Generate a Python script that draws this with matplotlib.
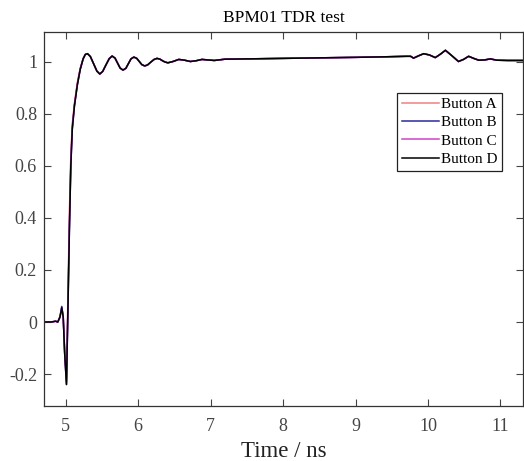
import matplotlib.pyplot as plt

plt.rcParams["font.family"] = ["Liberation Serif", "DejaVu Serif"]

# TDR step response of the four BPM buttons (time in ns, normalised amplitude)
t = [4.70, 4.80, 4.86, 4.89, 4.92, 4.945, 4.965, 4.985, 5.01, 5.03,
     5.05, 5.07, 5.09, 5.12, 5.16, 5.20, 5.24, 5.27, 5.30, 5.34,
     5.385, 5.43, 5.47, 5.51, 5.555, 5.60, 5.64, 5.68, 5.715, 5.75,
     5.79, 5.83, 5.865, 5.90, 5.94, 5.98, 6.015, 6.05, 6.09, 6.13,
     6.175, 6.22, 6.26, 6.30, 6.335, 6.37, 6.41, 6.48, 6.56, 6.64,
     6.72, 6.80, 6.88, 6.96, 7.05, 7.2, 7.5, 8.0, 8.5, 9.0,
     9.4, 9.70, 9.76, 9.80, 9.87, 9.94, 10.02, 10.10, 10.17, 10.24,
     10.33, 10.42, 10.49, 10.56, 10.63, 10.70, 10.78, 10.86, 10.95, 11.1,
     11.3]

button_a = [0.0, 0.0, 0.003, 0.0, 0.018, 0.050, 0.018, -0.11, -0.22, 0.10,
            0.42, 0.64, 0.76, 0.84, 0.92, 0.975, 1.012, 1.028, 1.030, 1.019,
            0.991, 0.963, 0.952, 0.962, 0.987, 1.011, 1.021, 1.013, 0.994, 0.975,
            0.967, 0.974, 0.992, 1.010, 1.017, 1.012, 1.000, 0.988, 0.983, 0.987,
            0.998, 1.008, 1.012, 1.009, 1.003, 0.998, 0.995, 1.000, 1.008, 1.005,
            1.000, 1.003, 1.008, 1.006, 1.004, 1.009, 1.010, 1.012, 1.014, 1.016,
            1.018, 1.020, 1.020, 1.013, 1.022, 1.030, 1.025, 1.015, 1.028, 1.043,
            1.022, 1.000, 1.008, 1.020, 1.012, 1.005, 1.006, 1.010, 1.005, 1.004,
            1.004]

button_b = [0.0, 0.0, 0.003, 0.0, 0.020, 0.060, 0.020, -0.12, -0.24, 0.05,
            0.35, 0.60, 0.74, 0.83, 0.91, 0.970, 1.010, 1.027, 1.030, 1.019,
            0.991, 0.963, 0.952, 0.962, 0.987, 1.011, 1.021, 1.013, 0.994, 0.975,
            0.967, 0.974, 0.992, 1.010, 1.017, 1.012, 1.000, 0.988, 0.983, 0.987,
            0.998, 1.008, 1.012, 1.009, 1.003, 0.998, 0.995, 1.000, 1.008, 1.005,
            1.000, 1.003, 1.008, 1.006, 1.004, 1.009, 1.010, 1.012, 1.014, 1.016,
            1.018, 1.020, 1.020, 1.013, 1.022, 1.030, 1.025, 1.015, 1.028, 1.043,
            1.022, 1.000, 1.008, 1.020, 1.012, 1.005, 1.006, 1.010, 1.005, 1.004,
            1.004]

button_c = [0.0, 0.0, 0.003, 0.0, 0.019, 0.055, 0.019, -0.115, -0.23, 0.07,
            0.38, 0.62, 0.75, 0.835, 0.915, 0.972, 1.011, 1.027, 1.030, 1.019,
            0.991, 0.963, 0.952, 0.962, 0.987, 1.011, 1.021, 1.013, 0.994, 0.975,
            0.967, 0.974, 0.992, 1.010, 1.017, 1.012, 1.000, 0.988, 0.983, 0.987,
            0.998, 1.008, 1.012, 1.009, 1.003, 0.998, 0.995, 1.000, 1.008, 1.005,
            1.000, 1.003, 1.008, 1.006, 1.004, 1.009, 1.010, 1.012, 1.014, 1.016,
            1.018, 1.020, 1.020, 1.013, 1.022, 1.030, 1.025, 1.015, 1.028, 1.043,
            1.022, 1.000, 1.008, 1.020, 1.012, 1.005, 1.006, 1.010, 1.005, 1.004,
            1.004]

button_d = [0.0, 0.0, 0.003, 0.0, 0.019, 0.055, 0.019, -0.12, -0.24, 0.05,
            0.35, 0.60, 0.74, 0.83, 0.91, 0.970, 1.010, 1.027, 1.030, 1.019,
            0.991, 0.963, 0.952, 0.962, 0.987, 1.011, 1.021, 1.013, 0.994, 0.975,
            0.967, 0.974, 0.992, 1.010, 1.017, 1.012, 1.000, 0.988, 0.983, 0.987,
            0.998, 1.008, 1.012, 1.009, 1.003, 0.998, 0.995, 1.000, 1.008, 1.005,
            1.000, 1.003, 1.008, 1.006, 1.004, 1.009, 1.010, 1.012, 1.014, 1.016,
            1.018, 1.020, 1.020, 1.013, 1.022, 1.030, 1.025, 1.015, 1.028, 1.043,
            1.022, 1.000, 1.008, 1.020, 1.012, 1.005, 1.006, 1.010, 1.005, 1.004,
            1.004]

labels = ["Button A", "Button B", "Button C", "Button D"]
colors = ["#f08080", "#2a2aa0", "#cc44cc", "#000000"]
xticks = [5, 6, 7, 8, 9, 10, 11]
yticks = [-0.2, 0, 0.2, 0.4, 0.6, 0.8, 1]

fig = plt.figure(figsize=(5.24, 4.61), dpi=100)
ax = fig.add_axes([0.084, 0.119, 0.914, 0.812])

for vals, lab, col in zip([button_a, button_b, button_c, button_d], labels, colors):
    ax.plot(t, vals, color=col, lw=1.1, label=lab)

ax.set_xlim(4.70, 11.31)
ax.set_ylim(-0.323, 1.114)
ax.set_xticks(xticks)
ax.set_yticks(yticks)
ax.set_yticklabels(["-0.2", "0", "0.2", "0.4", "0.6", "0.8", "1"])
ax.tick_params(direction="in", top=True, right=True, length=5, width=0.8,
               labelsize=13, colors="#444444")
ax.tick_params(axis="x", pad=8.5)
ax.tick_params(axis="y", pad=5)
for s in ax.spines.values():
    s.set_color("#333333")
    s.set_linewidth(0.9)

ax.set_title("BPM01 TDR test", fontsize=12.5, pad=7)
ax.set_xlabel("Time / ns", fontsize=16.5, labelpad=4, color="#222222")

leg = ax.legend(loc="upper right", bbox_to_anchor=(0.956, 0.837), fontsize=11,
                handlelength=2.4, handletextpad=0.15, borderpad=0.3,
                labelspacing=0.3, fancybox=False, framealpha=1,
                borderaxespad=0)
leg.get_frame().set_edgecolor("#222222")
leg.get_frame().set_linewidth(0.9)

fig.savefig("out.png", dpi=100)
